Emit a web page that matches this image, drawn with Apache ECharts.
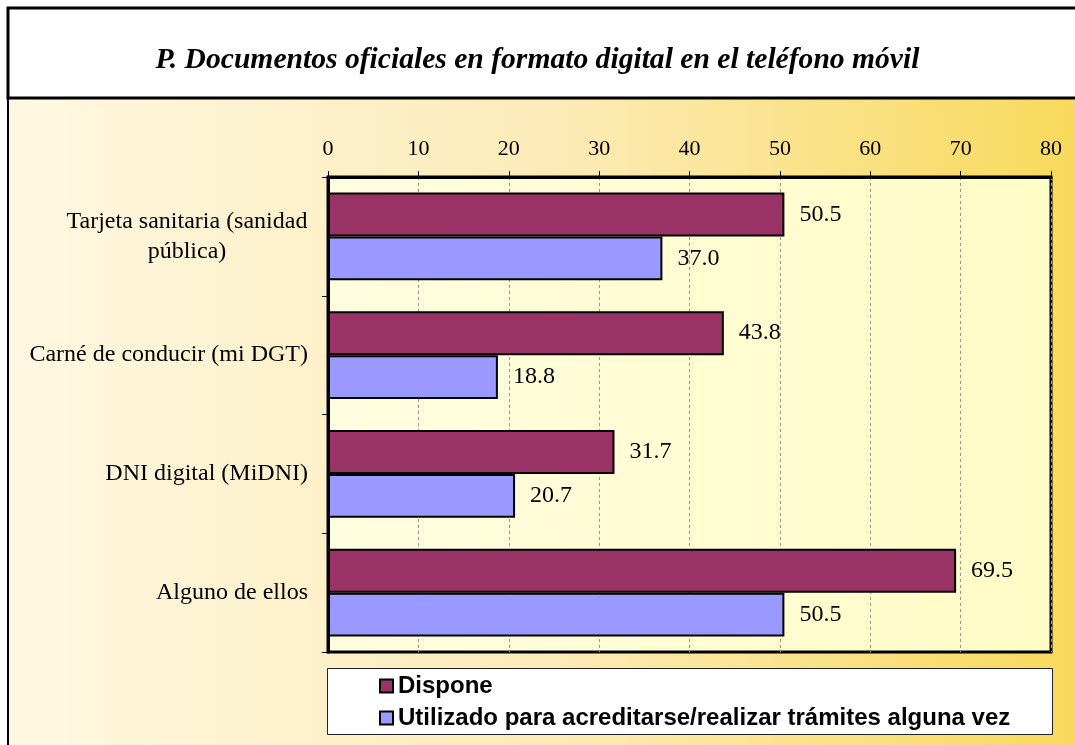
<!DOCTYPE html>
<html>
<head>
<meta charset="utf-8">
<script src="https://cdn.jsdelivr.net/npm/echarts@6/dist/echarts.min.js"></script>
<style>
  html, body { margin: 0; padding: 0; background: #fff; }
  #chart { width: 1075px; height: 745px; }
</style>
</head>
<body>
<div id="chart"></div>
<script>
const categories = [
  'Tarjeta sanitaria (sanidad\npública)',
  'Carné de conducir (mi DGT)',
  'DNI digital (MiDNI)',
  'Alguno de ellos'
]
const dispone = [50.5, 43.8, 31.7, 69.5]
const utilizado = [37.0, 18.8, 20.7, 50.5]
const seriesNames = ['Dispone', 'Utilizado para acreditarse/realizar trámites alguna vez']
const xTicks = { min: 0, max: 80, interval: 10 }

const serif = '"Liberation Serif", "Times New Roman", serif'
const sans = '"Liberation Sans", Arial, sans-serif'

const chart = echarts.init(document.getElementById('chart'))

const barLabel = {
  show: true,
  position: 'right',
  distance: 15,
  color: '#000',
  fontFamily: serif,
  fontSize: 24,
  formatter: (p) => p.value.toFixed(1)
}

const option = {
  animation: false,
  graphic: [
    {
      type: 'rect',
      z: -10,
      shape: { x: 8, y: 98, width: 1080, height: 660 },
      style: {
        fill: {
          type: 'linear', x: 0, y: 0, x2: 1, y2: 0,
          colorStops: [
            { offset: 0, color: '#FFF8E2' },
            { offset: 0.5, color: '#FCEBB8' },
            { offset: 1, color: '#F8D95A' }
          ]
        },
        stroke: '#000',
        lineWidth: 2
      }
    },
    {
      type: 'rect',
      z: -9,
      shape: { x: 8, y: 8, width: 1080, height: 90 },
      style: { fill: '#fff', stroke: '#000', lineWidth: 3 }
    },
    {
      type: 'rect',
      z: -8,
      shape: { x: 327.5, y: 668.5, width: 725, height: 66 },
      style: { fill: '#fff', stroke: '#222', lineWidth: 1 }
    }
  ],
  title: {
    text: 'P. Documentos oficiales en formato digital en el teléfono móvil',
    left: 'center',
    top: 40,
    textStyle: {
      fontFamily: serif,
      fontSize: 29.6,
      fontWeight: 'bold',
      fontStyle: 'italic',
      color: '#000'
    }
  },
  legend: {
    orient: 'vertical',
    left: 379,
    top: 674,
    padding: 0,
    itemWidth: 13,
    itemHeight: 13,
    itemGap: 8,
    icon: 'rect',
    textStyle: { fontFamily: sans, fontSize: 24, fontWeight: 'bold', color: '#000', lineHeight: 24 },
    data: seriesNames
  },
  grid: {
    left: 328,
    right: 24,
    top: 177,
    bottom: 93,
    show: true,
    borderColor: '#000',
    borderWidth: 3,
    backgroundColor: {
      type: 'linear', x: 0, y: 0, x2: 1, y2: 0,
      colorStops: [
        { offset: 0, color: '#FFFDE0' },
        { offset: 1, color: '#FFFCC6' }
      ]
    }
  },
  xAxis: {
    type: 'value',
    position: 'top',
    min: xTicks.min,
    max: xTicks.max,
    interval: xTicks.interval,
    axisLine: { show: true, lineStyle: { color: '#000', width: 3 } },
    axisTick: { show: true, length: 6, lineStyle: { color: '#000', width: 1 } },
    axisLabel: { color: '#000', fontFamily: serif, fontSize: 22, margin: 17 },
    splitLine: { show: true, lineStyle: { color: '#999', type: [3, 3], width: 1 } }
  },
  yAxis: {
    type: 'category',
    inverse: true,
    data: categories,
    axisLine: { show: true, lineStyle: { color: '#000', width: 3 } },
    axisTick: { show: true, length: 6, lineStyle: { color: '#000', width: 1 } },
    axisLabel: {
      color: '#000',
      fontFamily: serif,
      fontSize: 24,
      margin: 20,
      lineHeight: 30,
      formatter: (v) => {
        if (v.indexOf('\n') < 0) return v
        return v.split('\n').map((s) => '{c|' + s + '}').join('\n')
      },
      rich: {
        c: { width: 242, align: 'center', fontFamily: serif, fontSize: 24, lineHeight: 30, color: '#000' }
      }
    }
  },
  series: [
    {
      name: seriesNames[0],
      type: 'bar',
      data: dispone,
      barGap: '0%',
      barCategoryGap: '26%',
      itemStyle: { color: '#993366', borderColor: '#000', borderWidth: 2 },
      label: barLabel
    },
    {
      name: seriesNames[1],
      type: 'bar',
      data: utilizado,
      itemStyle: { color: '#9999FF', borderColor: '#000', borderWidth: 2 },
      label: barLabel
    }
  ]
}

chart.setOption(option)
</script>
</body>
</html>
